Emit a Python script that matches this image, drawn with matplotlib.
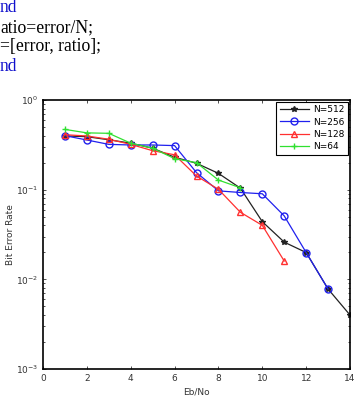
import numpy as np
import matplotlib
matplotlib.use('Agg')
from matplotlib import pyplot as plt
from matplotlib.ticker import LogLocator, NullFormatter

# Eb/No values and bit error rates for each block length
eb512 = [1, 2, 3, 4, 5, 6, 7, 8, 9, 10, 11, 12, 13, 14]
ber512 = [0.397, 0.39, 0.36, 0.33, 0.29, 0.23, 0.197, 0.152, 0.104, 0.044, 0.026, 0.0199, 0.0078, 0.004]

eb256 = [1, 2, 3, 4, 5, 6, 7, 8, 9, 10, 11, 12, 13]
ber256 = [0.40, 0.358, 0.32, 0.315, 0.315, 0.31, 0.155, 0.097, 0.093, 0.090, 0.051, 0.0199, 0.0078]

eb128 = [1, 2, 3, 4, 5, 6, 7, 8, 9, 10, 11]
ber128 = [0.41, 0.397, 0.365, 0.32, 0.272, 0.245, 0.142, 0.101, 0.056, 0.040, 0.016]

eb64 = [1, 2, 3, 4, 5, 6, 7, 8, 9]
ber64 = [0.47, 0.43, 0.425, 0.33, 0.29, 0.222, 0.20, 0.128, 0.105]

code_lines = ['nd', 'atio=error/N;', '=[error, ratio];', 'nd']
code_colors = ['#1010cc', 'black', 'black', '#1010cc']

fig = plt.figure(figsize=(3.57, 3.97), dpi=100)

# code snippet above the plot
for i, (s, c) in enumerate(zip(code_lines, code_colors)):
    fig.text(0.0, 1 - (8 + 19.5 * i) / 397, s, color=c, fontsize=12.7,
             family='Liberation Serif', va='center', ha='left')

ax = fig.add_axes([43 / 357, 28 / 397, 307 / 357, 269 / 397])
ax.semilogy(eb512, ber512, '-*', color='#222222', lw=0.9, ms=4, label='N=512')
ax.semilogy(eb256, ber256, '-o', color='#2020ee', lw=0.9, ms=5, mfc='none', label='N=256')
ax.semilogy(eb128, ber128, '-^', color='#ff3030', lw=0.9, ms=5, mfc='none', label='N=128')
ax.semilogy(eb64, ber64, '-+', color='#30e030', lw=0.9, ms=5, label='N=64')

ax.set_xlim(0, 14)
ax.set_ylim(1e-3, 1)
ax.set_xticks([0, 2, 4, 6, 8, 10, 12, 14])
ax.yaxis.set_minor_locator(LogLocator(base=10, subs=np.arange(2, 10)))
ax.yaxis.set_minor_formatter(NullFormatter())
ax.tick_params(which='both', direction='in', top=True, right=True, labelsize=6.5,
               colors='#333333', length=2.5, width=0.6)
ax.tick_params(which='minor', length=1.5)
for sp in ax.spines.values():
    sp.set_linewidth(1.2)

ax.set_xlabel('Eb/No', fontsize=6.5, color='#333333', labelpad=3)
ax.set_ylabel('Bit Error Rate', fontsize=6.5, color='#333333')
ax.yaxis.set_label_coords(-28 / 307, 0.5)

leg = ax.legend(loc='upper right', fontsize=6.5, fancybox=False, framealpha=1,
                edgecolor='black', borderaxespad=0.2, handlelength=3.2,
                handletextpad=0.5, labelspacing=0.35, borderpad=0.4)
leg.get_frame().set_linewidth(0.8)

fig.savefig('out.png', dpi=100)
